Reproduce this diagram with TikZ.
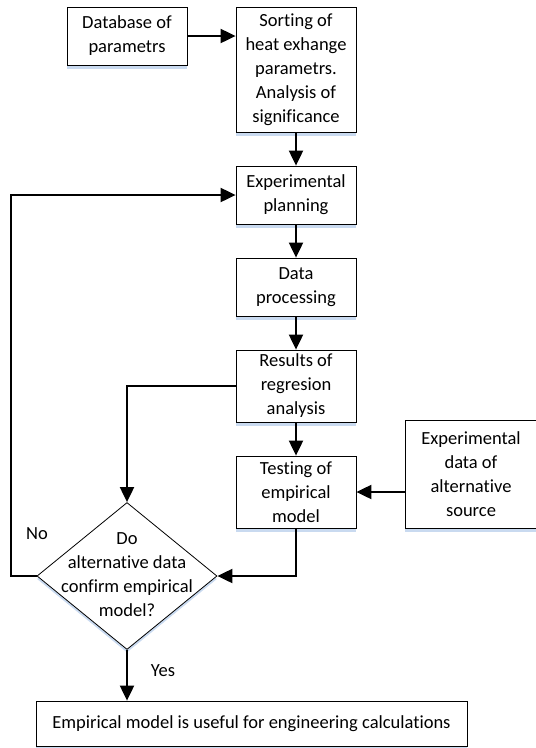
\documentclass[tikz,border=0pt]{standalone}
\usepackage{fontspec}
\setmainfont{Carlito}[Ligatures=NoCommon]
\usepackage{tikz}
\usetikzlibrary{arrows.meta,shapes.geometric,shadows}
\definecolor{shadowblue}{HTML}{C9DAF0}

\begin{document}
\begin{tikzpicture}[x=1pt, y=-1pt,
      font=\fontsize{18.5}{24}\selectfont,
      box/.style={draw, thick, fill=white, align=center, inner sep=0pt,
                  minimum width=120pt,
                  copy shadow={shadow xshift=0pt, shadow yshift=-4pt,
                               fill=shadowblue, draw=none}},
      decision/.style={draw, thick, fill=white, diamond, inner sep=0pt,
                  minimum width=180pt, minimum height=147pt,
                  copy shadow={shadow xshift=0pt, shadow yshift=-3pt,
                               fill=shadowblue, draw=none}},
      flow/.style={-{Triangle[length=15pt, width=14pt]}, line width=2pt}]
      \useasboundingbox (0,0) rectangle (536,748);
      \node[box, minimum height=58pt]  (db)   at (127, 36)  {Database of\\parametrs};
      \node[box, minimum height=125pt] (sort) at (296, 69.5) {Sorting of\\heat exhange\\parametrs.\\Analysis of\\significance};
      \node[box, minimum height=58pt]  (plan) at (296, 195) {Experimental\\planning};
      \node[box, minimum height=58pt]  (proc) at (296, 287) {Data\\processing};
      \node[box, minimum height=72pt]  (res)  at (296, 386) {Results of\\regresion\\analysis};
      \node[box, minimum height=72pt]  (test) at (296, 492) {Testing of\\empirical\\model};
      \node[box, minimum height=108pt, minimum width=132pt] (alt) at (471, 474)
          {Experimental\\data of\\alternative\\source};
      \node[decision] (dec) at (127, 576) {};
      \node[align=center, inner sep=0pt] (dectxt) at (127, 575)
          {Do\\alternative data\\confirm empirical\\model?};
      \node[box, minimum height=45pt, minimum width=431pt] (final) at (251.5, 723.5)
          {Empirical model is useful for engineering calculations};
      % answers of the decision
      \node (no)  at (37, 534)  {No};
      \node (yes) at (163, 671) {Yes};
      \coordinate (loop) at (11, 576);
      \draw[flow] (db) -- (db -| sort.west);
      \draw[flow]
          (sort) edge (plan)
          (plan) edge (proc)
          (proc) edge (res)
          (res)  edge (test);
      \draw[flow] (alt.west |- test) -- (test.east);
      % back to planning when the data do not agree
      \draw[flow] (dec.west) -- (loop) |- (plan.west);
      \draw[flow] (res.west) -| (dec.north);
      \draw[flow] (test.south) |- (dec.east);
      \draw[flow] (dec.south) -- (dec.south |- final.north);
    \end{tikzpicture}
\end{document}
